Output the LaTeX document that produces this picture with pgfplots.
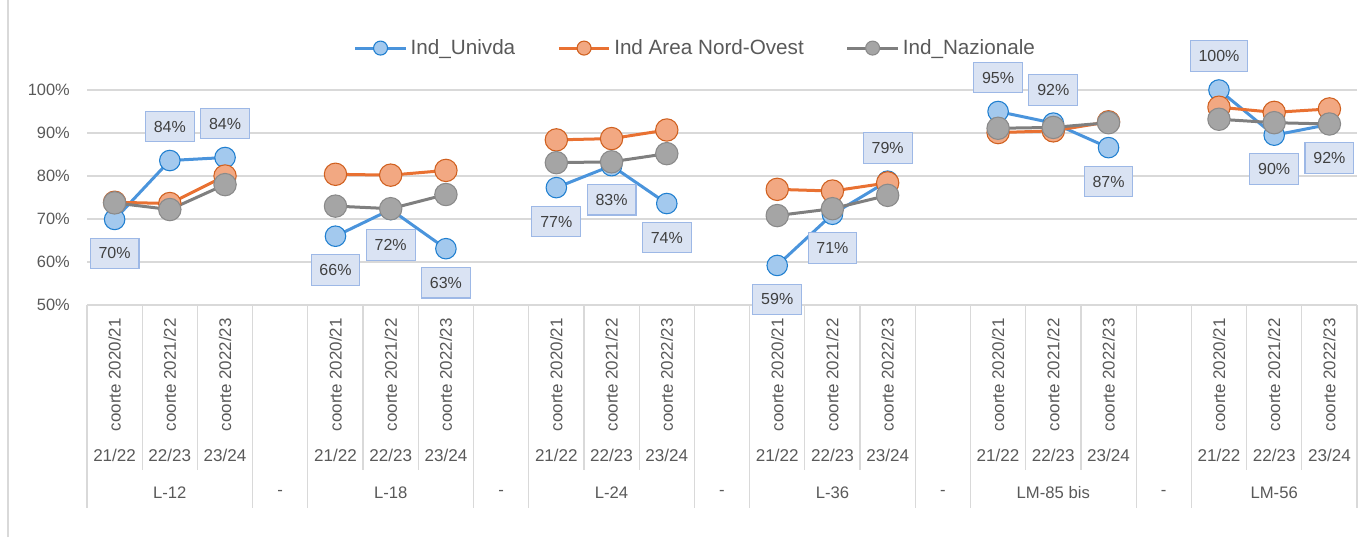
\documentclass[border=0pt]{standalone}
\usepackage{pgfplots}
\pgfplotsset{compat=1.18}
\usepackage{pgfplotstable}
\usepackage{fontspec}
\setmainfont{Liberation Sans}
\definecolor{cBlueLine}{HTML}{4A94DC}
\definecolor{cBlueFill}{HTML}{A3C9EE}
\definecolor{cBlueEdge}{HTML}{1F7FD0}
\definecolor{cOrLine}{HTML}{E97132}
\definecolor{cOrFill}{HTML}{F2A882}
\definecolor{cOrEdge}{HTML}{D0601F}
\definecolor{cGrLine}{HTML}{7F7F7F}
\definecolor{cGrFill}{HTML}{A5A5A5}
\definecolor{cGrEdge}{HTML}{8A8A8A}
\definecolor{cGrid}{HTML}{D9D9D9}
\definecolor{cText}{HTML}{595959}
\definecolor{cLblText}{HTML}{404040}
\definecolor{cLblFill}{HTML}{DAE3F3}
\definecolor{cLblEdge}{HTML}{9DB8E6}

\pgfplotstableread{
x y dy lab
0 69.9 -25.5 70
1 83.6 25.5 84
2 84.3 25.5 84
3 nan 0 x
4 66.0 -25.5 66
5 72.2 -26.5 72
6 63.1 -25.5 63
7 nan 0 x
8 77.3 -25.5 77
9 82.4 -25.5 83
10 73.6 -25.5 74
11 nan 0 x
12 59.2 -25.5 59
13 71.1 -25.5 71
14 78.8 25 79
15 nan 0 x
16 95.0 25.5 95
17 92.3 25 92
18 86.6 -25.5 87
19 nan 0 x
20 100 25.5 100
21 89.5 -25.5 90
22 92.0 -25 92
}\univda

\pgfplotstableread{
x y
0 73.9
1 73.6
2 80.0
3 nan
4 80.4
5 80.2
6 81.3
7 nan
8 88.4
9 88.7
10 90.7
11 nan
12 76.9
13 76.5
14 78.4
15 nan
16 90.1
17 90.5
18 92.6
19 nan
20 96.0
21 94.8
22 95.6
}\nordovest

\pgfplotstableread{
x y
0 73.75
1 72.2
2 78.0
3 nan
4 73.0
5 72.4
6 75.7
7 nan
8 83.1
9 83.3
10 85.2
11 nan
12 70.8
13 72.4
14 75.5
15 nan
16 91.1
17 91.3
18 92.4
19 nan
20 93.2
21 92.4
22 92.1
}\nazionale

\begin{document}
\begin{tikzpicture}
\path[use as bounding box] (0,0) rectangle (1021.5pt,402.75pt);
\draw[cGrid, line width=0.9pt] (6pt,0) -- (6pt,402.75pt);
\begin{axis}[
  at={(65.25pt,174pt)}, anchor=south west,
  scale only axis, width=952.5pt, height=161.25pt,
  xmin=-0.5, xmax=22.5, ymin=50, ymax=100,
  clip=false,
  axis line style={draw=none},
  xtick=\empty,
  ytick={50,60,70,80,90,100},
  yticklabels={50\%,60\%,70\%,80\%,90\%,100\%},
  major tick length=0pt,
  ymajorgrids, grid style={cGrid, line width=1pt},
  yticklabel style={anchor=east, inner sep=0pt, xshift=-12.75pt, text=cText, font=\fontsize{12.3}{14}\selectfont},
  unbounded coords=jump,
  legend columns=3,
  legend style={at={(0.4795,1.195)}, anchor=center, draw=none, fill=none,
    text=cText, font=\fontsize{15.5}{18}\selectfont,
    /tikz/every even column/.append style={column sep=29pt},
    nodes={inner sep=2.5pt}},
  legend image code/.code={
    \draw[#1, mark=none] (0pt,0pt) -- (38pt,0pt);
    \draw[#1, mark size=5.25pt, draw=none] plot coordinates {(19pt,0pt)};
  },
]
\addplot[cBlueLine, line width=2.25pt, line join=round, mark=*, mark size=7.7pt,
  mark options={fill=cBlueFill, draw=cBlueEdge, line width=0.8pt}]
  table[x=x, y=y] {\univda};
\addlegendentry{Ind\_Univda}
\addplot[cOrLine, line width=2.25pt, line join=round, mark=*, mark size=8.4pt,
  mark options={fill=cOrFill, draw=cOrEdge, line width=0.8pt}]
  table[x=x, y=y] {\nordovest};
\addlegendentry{Ind Area Nord-Ovest}
\addplot[cGrLine, line width=2.25pt, line join=round, mark=*, mark size=8.4pt,
  mark options={fill=cGrFill, draw=cGrEdge, line width=0.8pt}]
  table[x=x, y=y] {\nazionale};
\addlegendentry{Ind\_Nazionale}

% data labels for Ind_Univda, on top
\addplot[draw=none, mark=none, forget plot,
  point meta=explicit symbolic,
  nodes near coords={\pgfplotspointmeta\%},
  visualization depends on={\thisrow{dy}\as\dy},
  every node near coord/.append style={anchor=center, yshift=\dy pt,
    fill=cLblFill, draw=cLblEdge, line width=0.8pt, text=cLblText,
    font=\fontsize{12}{14}\selectfont, inner xsep=6.3pt, inner ysep=0pt,
    minimum height=23pt}]
  table[x=x, y=y, meta=lab] {\univda};

% category table below the axis
\pgfplotsinvokeforeach{0.5,1.5,4.5,5.5,8.5,9.5,12.5,13.5,16.5,17.5,20.5,21.5}{
  \draw[cGrid, line width=0.9pt] (axis cs:#1,50) -- (axis cs:#1,11.63);
}
\pgfplotsinvokeforeach{-0.5,2.5,3.5,6.5,7.5,10.5,11.5,14.5,15.5,18.5,19.5,22.5}{
  \draw[cGrid, line width=0.9pt] (axis cs:#1,50) -- (axis cs:#1,2.79);
}
\pgfplotsinvokeforeach{0,4,8,12,16,20}{
  \node[rotate=90, anchor=east, inner sep=0pt, text=cText, font=\fontsize{12.7}{14}\selectfont] at (axis cs:#1,46.98) {coorte 2020/21};
  \node[text=cText, inner sep=0pt, font=\fontsize{12.8}{14}\selectfont] at (axis cs:#1,15.12) {21/22};
}
\pgfplotsinvokeforeach{1,5,9,13,17,21}{
  \node[rotate=90, anchor=east, inner sep=0pt, text=cText, font=\fontsize{12.7}{14}\selectfont] at (axis cs:#1,46.98) {coorte 2021/22};
  \node[text=cText, inner sep=0pt, font=\fontsize{12.8}{14}\selectfont] at (axis cs:#1,15.12) {22/23};
}
\pgfplotsinvokeforeach{2,6,10,14,18,22}{
  \node[rotate=90, anchor=east, inner sep=0pt, text=cText, font=\fontsize{12.7}{14}\selectfont] at (axis cs:#1,46.98) {coorte 2022/23};
  \node[text=cText, inner sep=0pt, font=\fontsize{12.8}{14}\selectfont] at (axis cs:#1,15.12) {23/24};
}
\pgfplotsinvokeforeach{3,7,11,15,19}{
  \node[text=cText, inner sep=0pt, font=\fontsize{12.5}{14}\selectfont] at (axis cs:#1,6.28) {-};
}
\node[text=cText, inner sep=0pt, font=\fontsize{12.5}{14}\selectfont] at (axis cs:1,6.28) {L-12};
\node[text=cText, inner sep=0pt, font=\fontsize{12.5}{14}\selectfont] at (axis cs:5,6.28) {L-18};
\node[text=cText, inner sep=0pt, font=\fontsize{12.5}{14}\selectfont] at (axis cs:9,6.28) {L-24};
\node[text=cText, inner sep=0pt, font=\fontsize{12.5}{14}\selectfont] at (axis cs:13,6.28) {L-36};
\node[text=cText, inner sep=0pt, font=\fontsize{12.5}{14}\selectfont] at (axis cs:17,6.28) {LM-85 bis};
\node[text=cText, inner sep=0pt, font=\fontsize{12.5}{14}\selectfont] at (axis cs:21,6.28) {LM-56};
\end{axis}
\end{tikzpicture}
\end{document}
